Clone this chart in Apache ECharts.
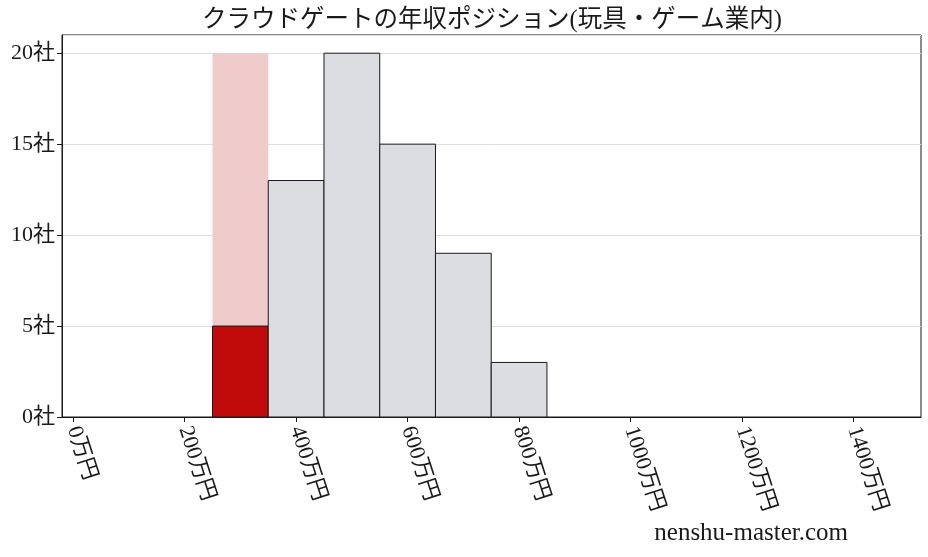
<!DOCTYPE html>
<html>
<head>
<meta charset="utf-8">
<script src="https://cdn.jsdelivr.net/npm/echarts@6/dist/echarts.min.js"></script>
<style>
html, body { margin: 0; padding: 0; background: #fff; }
#main { width: 928px; height: 557px; }
</style>
</head>
<body>
<div id="main"></div>
<script>
// 年収分布 (万円)
var binStarts = [250, 350, 450, 550, 650, 750];
var binEnds = [350, 450, 550, 650, 750, 850];
var counts = [5, 13, 20, 15, 9, 3];
// 自社の位置
var ownBinStart = 250;
var ownBinEnd = 350;
var xTickValues = [0, 200, 400, 600, 800, 1000, 1200, 1400];
var yTickValues = [0, 5, 10, 15, 20];

var serif = "'Liberation Serif', 'Noto Sans CJK JP', serif";

var Chart = function() {
    var t = {
        init : function(el) {
            t.chart = echarts.init(el, null, { renderer : 'canvas' });
            t.render();
        },
        rectItem : function(params, api) {
            var p0 = api.coord([api.value(0), api.value(2)]);
            var p1 = api.coord([api.value(1), 0]);
            return {
                type : 'rect',
                shape : { x : p0[0], y : p0[1], width : p1[0] - p0[0], height : p1[1] - p0[1] },
                style : api.style()
            };
        },
        render : function() {
            var maxCount = Math.max.apply(null, counts);
            var bars = [];
            for (var i = 0; i < binStarts.length; i++) {
                bars.push({
                    value : [binStarts[i], binEnds[i], counts[i]],
                    itemStyle : {
                        color : binStarts[i] == ownBinStart ? '#c10a0a' : '#dcdde0',
                        borderColor : '#1a1a1a',
                        borderWidth : 1
                    }
                });
            }
            var option = {
                animation : false,
                title : {
                    text : 'クラウドゲートの年収ポジション(玩具・ゲーム業内)',
                    left : 487,
                    textAlign : 'center',
                    top : 3,
                    textStyle : { fontFamily : serif, fontSize : 24.5, fontWeight : 'normal', color : '#1a1a1a' }
                },
                graphic : [ {
                    type : 'text',
                    right : 80,
                    top : 521,
                    style : { text : 'nenshu-master.com', font : '25px ' + serif, fill : '#1a1a1a' }
                } ],
                grid : {
                    left : 62, right : 7, top : 35, bottom : 140,
                    show : true, borderColor : '#1a1a1a', borderWidth : 1
                },
                xAxis : {
                    type : 'value',
                    min : -20,
                    max : 1521,
                    axisLine : { show : true, onZero : false, lineStyle : { color : '#1a1a1a' } },
                    axisTick : { show : true, length : 5, customValues : xTickValues, lineStyle : { color : '#1a1a1a' } },
                    axisLabel : {
                        customValues : xTickValues,
                        rotate : -72,
                        margin : 10,
                        fontFamily : serif,
                        fontSize : 22,
                        color : '#1a1a1a',
                        formatter : function(v) { return v + '万円'; }
                    },
                    splitLine : { show : false }
                },
                yAxis : {
                    type : 'value',
                    min : 0,
                    max : 21,
                    interval : 5,
                    axisLine : { show : true, onZero : false, lineStyle : { color : '#1a1a1a' } },
                    axisTick : { show : true, length : 5, lineStyle : { color : '#1a1a1a' } },
                    axisLabel : {
                        margin : 7,
                        fontFamily : serif,
                        fontSize : 22,
                        color : '#1a1a1a',
                        formatter : function(v) { return v + '社'; }
                    },
                    splitLine : { show : true, lineStyle : { color : '#dddddd', width : 1 } }
                },
                series : [ {
                    type : 'custom',
                    renderItem : t.rectItem,
                    encode : { x : [0, 1], y : 2 },
                    itemStyle : { color : '#f0cbcc' },
                    data : [ [ownBinStart, ownBinEnd, maxCount] ],
                    z : 1
                }, {
                    type : 'custom',
                    renderItem : t.rectItem,
                    encode : { x : [0, 1], y : 2 },
                    data : bars,
                    z : 2
                } ]
            };
            t.chart.setOption(option);
        }
    };
    return t;
}();

Chart.init(document.getElementById('main'));
</script>
</body>
</html>
